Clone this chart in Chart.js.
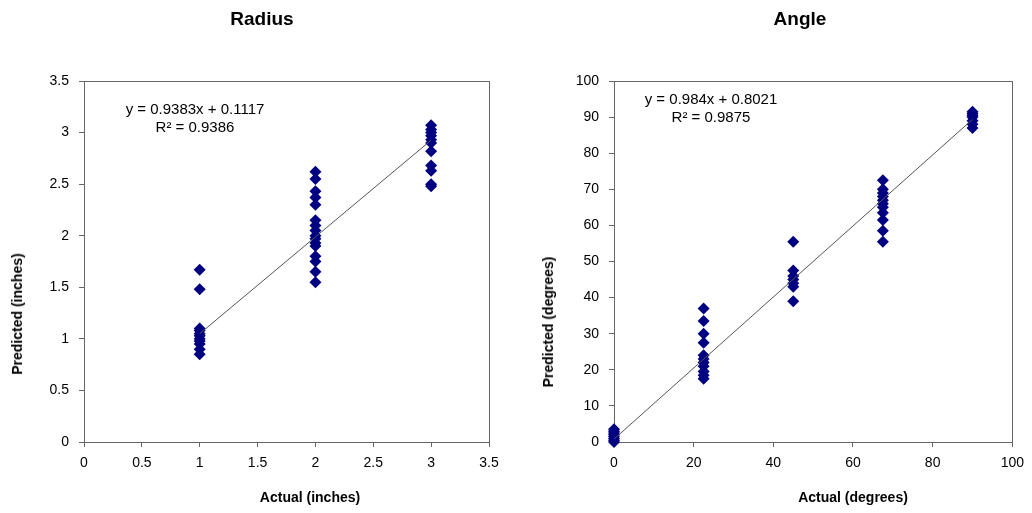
<!DOCTYPE html>
<html>
<head>
<meta charset="utf-8">
<script src="https://cdn.jsdelivr.net/npm/chart.js@4/dist/chart.umd.min.js"></script>
<style>
  html, body { margin: 0; padding: 0; background: #fff; }
  body { width: 1032px; height: 513px; position: relative; overflow: hidden; font-family: "Liberation Sans", Arial, sans-serif; }
  .box { position: absolute; top: 0; width: 516px; height: 513px; }
  .lbl { position: absolute; font-weight: bold; color: #000; white-space: nowrap; line-height: 1; }
  .ttl { font-size: 19px; transform: translate(-50%, -50%); }
  .xt { font-size: 14px; transform: translate(-50%, -50%); }
  .yt { font-size: 14px; transform: translate(-50%, -50%) rotate(-90deg); }
</style>
</head>
<body>
<div class="box" style="left:0"><canvas id="RadiusChart" width="516" height="513"></canvas></div>
<div class="box" style="left:516px"><canvas id="AngleChart" width="516" height="513"></canvas></div>
<div class="lbl ttl" style="left:262px; top:18px">Radius</div>
<div class="lbl ttl" style="left:800px; top:18px">Angle</div>
<div class="lbl xt" style="left:310px; top:497px">Actual (inches)</div>
<div class="lbl xt" style="left:853px; top:497px">Actual (degrees)</div>
<div class="lbl yt" style="left:17px; top:314px">Predicted (inches)</div>
<div class="lbl yt" style="left:548px; top:322px">Predicted (degrees)</div>
<script>
(function () {
  "use strict";

  // radius data (inches)
  const radius_actual = [1,1,1,1,1,1,1,1,1,1,1,
    2,2,2,2,2,2,2,2,2,2,2,2,2,2,2,2,
    3,3,3,3,3,3,3,3,3,3,3];
  const radius_pred = [1.67,1.48,1.10,1.08,1.05,1.03,1.00,0.98,0.95,0.90,0.85,
    2.62,2.55,2.43,2.37,2.30,2.15,2.10,2.05,2.00,1.97,1.93,1.90,1.80,1.75,1.65,1.55,
    3.07,3.03,3.00,2.97,2.93,2.90,2.82,2.68,2.63,2.50,2.48];
  const radius_fit = [0.9383, 0.1117];   // slope, intercept
  const radius_text = ['y = 0.9383x + 0.1117', 'R\u00b2 = 0.9386'];

  // angle data (degrees)
  const angle_actual = [0,0,0,0,0,0,0,0,
    22.5,22.5,22.5,22.5,22.5,22.5,22.5,22.5,22.5,22.5,22.5,
    45,45,45,45,45,45,45,
    67.5,67.5,67.5,67.5,67.5,67.5,67.5,67.5,67.5,67.5,67.5,
    90,90,90,90,90,90,90];
  const angle_pred = [0,0.5,1,1.5,2,2.5,3,3.5,
    37,33.5,30,27.5,24,23,22,21,19.5,18.5,17.5,
    55.5,47.5,46,45,44,43,39,
    72.5,70,69,68,67,66,65,63.5,61.5,58.5,55.5,
    91.5,91,90.5,90,89,88,87];
  const angle_fit = [0.984, 0.8021];
  const angle_text = ['y = 0.984x + 0.8021', 'R\u00b2 = 0.9875'];

  const navy = '#000080';
  const frame = '#666666';
  const font_tick = { family: '"Liberation Sans", Arial, sans-serif', size: 14 };

  function pairs(xs, ys) {
    return xs.map((x, i) => ({ x: x, y: ys[i] }));
  }
  function fitLine(fit, x0, x1) {
    return [{ x: x0, y: fit[0] * x0 + fit[1] }, { x: x1, y: fit[0] * x1 + fit[1] }];
  }
  const fmt = (v) => String(Math.round(v * 100) / 100);

  // plot frame + equation label
  const framePlugin = {
    id: 'frame',
    beforeDatasetsDraw(chart) {
      const a = chart.chartArea;
      const ctx = chart.ctx;
      ctx.save();
      ctx.strokeStyle = frame;
      ctx.lineWidth = 1;
      ctx.strokeRect(Math.round(a.left) + 0.5, Math.round(a.top) + 0.5,
        Math.round(a.right - a.left), Math.round(a.bottom - a.top));
      ctx.restore();
    },
    afterDatasetsDraw(chart, args, opts) {
      const a = chart.chartArea;
      const ctx = chart.ctx;
      ctx.save();
      ctx.fillStyle = '#000';
      ctx.font = '15px "Liberation Sans", Arial, sans-serif';
      ctx.textAlign = 'center';
      ctx.textBaseline = 'middle';
      ctx.fillText(opts.lines[0], a.left + opts.dx, a.top + opts.dy);
      ctx.fillText(opts.lines[1], a.left + opts.dx, a.top + opts.dy + 18);
      ctx.restore();
    }
  };

  function makeChart(id, xs, ys, fit, fx0, fx1, xmax, xstep, ymax, ystep, yw, padR, lines, dx, dy) {
    const ctx = document.getElementById(id).getContext('2d');
    return new Chart(ctx, {
      type: 'scatter',
      data: {
        datasets: [{
          data: pairs(xs, ys),
          pointStyle: 'rectRot',
          pointRadius: 6,
          pointBackgroundColor: navy,
          pointBorderColor: navy,
          pointBorderWidth: 0,
          clip: false,
          order: 2
        }, {
          type: 'line',
          data: fitLine(fit, fx0, fx1),
          borderColor: '#555555',
          borderWidth: 1,
          pointRadius: 0,
          fill: false,
          order: 1
        }]
      },
      options: {
        responsive: false,
        animation: false,
        layout: { padding: { left: 0, right: padR, top: 81, bottom: 0 } },
        scales: {
          x: {
            type: 'linear', min: 0, max: xmax,
            afterFit: (s) => { s.height = 71; },
            ticks: { stepSize: xstep, color: '#000', font: font_tick, padding: 8, maxRotation: 0, callback: fmt },
            grid: { display: true, drawOnChartArea: false, drawTicks: true, tickLength: 5, color: frame },
            border: { display: true, color: frame }
          },
          y: {
            type: 'linear', min: 0, max: ymax,
            afterFit: (s) => { s.width = yw; },
            ticks: { stepSize: ystep, color: '#000', font: font_tick, padding: 10, callback: fmt },
            grid: { display: true, drawOnChartArea: false, drawTicks: true, tickLength: 5, color: frame },
            border: { display: true, color: frame }
          }
        },
        plugins: {
          legend: { display: false },
          tooltip: { enabled: false },
          frame: { lines: lines, dx: dx, dy: dy }
        }
      },
      plugins: [framePlugin]
    });
  }

  makeChart('RadiusChart', radius_actual, radius_pred, radius_fit, 1, 3,
    3.5, 0.5, 3.5, 0.5, 84, 27, radius_text, 111, 29);
  makeChart('AngleChart', angle_actual, angle_pred, angle_fit, 0, 90,
    100, 20, 100, 10, 98, 15, angle_text, 97, 19);

})();
</script>
</body>
</html>
